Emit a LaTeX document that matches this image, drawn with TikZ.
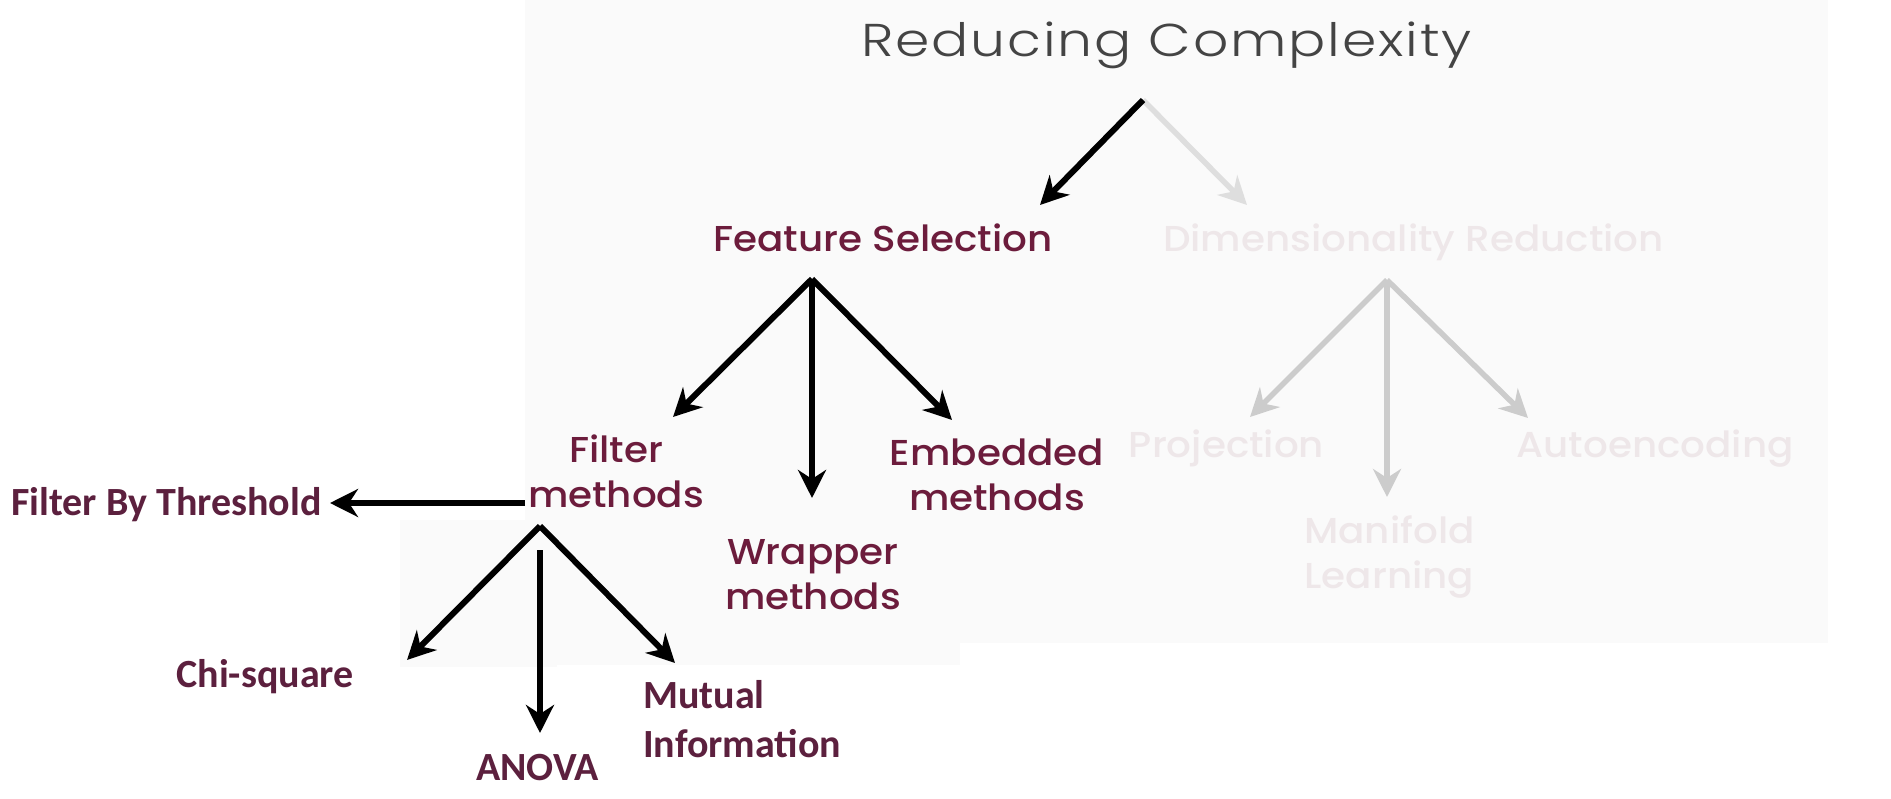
\documentclass[tikz,border=0pt]{standalone}
\usepackage{fontspec}
\setmainfont{Poppins}
\newfontfamily\titlefont{Poppins Light}[FakeStretch=1.2, LetterSpace=4]
\newfontfamily\lblfont{Poppins Medium}[FakeStretch=1.08]
\newfontfamily\calfont{Carlito}
\usetikzlibrary{arrows.meta}
\definecolor{panelbg}{RGB}{250,250,250}
\definecolor{titlegray}{RGB}{68,68,68}
\definecolor{maroon}{RGB}{108,28,60}
\definecolor{calmaroon}{RGB}{92,32,62}
\definecolor{fadetext}{RGB}{238,231,233}
\definecolor{fadearrow}{RGB}{204,204,204}
\definecolor{fadearrowlight}{RGB}{222,222,222}
\tikzset{
  headtip/.tip={Stealth[length=28pt,width=28pt,inset=9pt]},
  blkarrow/.style={line width=6pt, draw=black, -headtip},
  grayarrow/.style={line width=5.5pt, draw=fadearrow, -headtip},
  lightarrow/.style={line width=5.5pt, draw=fadearrowlight, -headtip},
  ttl/.style={inner sep=0pt, anchor=base, text=titlegray, font=\titlefont\fontsize{46}{55}\selectfont},
  lbl/.style={inner sep=0pt, anchor=base, text=maroon, font=\lblfont\fontsize{36}{45}\selectfont},
  fadelbl/.style={lbl, text=fadetext},
  callbl/.style={inner sep=0pt, anchor=base, text=calmaroon, font=\calfont\bfseries\fontsize{40}{49}\selectfont},
}
\begin{document}
\begin{tikzpicture}[x=1pt,y=-1pt]
\useasboundingbox (0,0) rectangle (1891,799);
\fill[white] (0,0) rectangle (1891,799);
\fill[panelbg] (525,0) rectangle (1828,643);
\fill[panelbg] (400,520) rectangle (557,667);
\fill[panelbg] (525,643) rectangle (960,665);

% texts
\node[ttl] (title) at (1166.5,57) {Reducing Complexity};
\node[lbl] (fs) at (883,252) {Feature Selection};
\node[fadelbl] (dr) at (1413.5,252) {Dimensionality Reduction};
\node[lbl] (filt) at (616,463) {\begin{tabular}[t]{@{}c@{}}Filter\\methods\end{tabular}};
\node[lbl] (wrap) at (813,564) {\begin{tabular}[t]{@{}c@{}}Wrapper\\methods\end{tabular}};
\node[lbl] (emb) at (997,466) {\begin{tabular}[t]{@{}c@{}}Embedded\\methods\end{tabular}};
\node[fadelbl] (proj) at (1226.5,457) {Projection};
\node[fadelbl] (mani) at (1389.5,543) {\begin{tabular}[t]{@{}c@{}}Manifold\\Learning\end{tabular}};
\node[fadelbl] (auto) at (1655,457) {Autoencoding};
\node[callbl] (fbt) at (166.5,515) {Filter By Threshold};
\node[callbl] (chi) at (265,687) {Chi-square};
\node[callbl] (anova) at (537.5,780) {ANOVA};
\node[callbl, anchor=base west] (mi) at (643,708) {\begin{tabular}[t]{@{}l@{}}Mutual\\Information\end{tabular}};

% fork points and arrow ends
\coordinate (rcfork) at (1143,100);
\coordinate (fstip) at (1040,205);
\coordinate (drtip) at (1247,205);
\coordinate (fsfork) at (812,279);
\coordinate (filttip) at (673,417);
\coordinate (wraptip) at (812,498);
\coordinate (embtip) at (952,420);
\coordinate (drfork) at (1387,280);
\coordinate (projtip) at (1250,417);
\coordinate (manitip) at (1387,497);
\coordinate (autotip) at (1528,418);
\coordinate (filtfork) at (540,526);
\coordinate (anovastart) at (540,550);
\coordinate (chitip) at (407,660);
\coordinate (anovatip) at (540,733);
\coordinate (mitip) at (675,663);
\coordinate (fbtstart) at (525,503);
\coordinate (fbttip) at (330,503);

% connectors
\draw[lightarrow] (rcfork) -- (drtip);
\draw[blkarrow] (rcfork) -- (fstip);
\draw[blkarrow] (fsfork) -- (filttip);
\draw[blkarrow] (fsfork) -- (wraptip);
\draw[blkarrow] (fsfork) -- (embtip);
\draw[grayarrow] (drfork) -- (projtip);
\draw[grayarrow] (drfork) -- (manitip);
\draw[grayarrow] (drfork) -- (autotip);
\draw[blkarrow] (filtfork) -- (chitip);
\draw[blkarrow] (anovastart) -- (anovatip);
\draw[blkarrow] (filtfork) -- (mitip);
\draw[blkarrow, line width=6.5pt] (fbtstart) -- (fbttip);
\end{tikzpicture}
\end{document}
